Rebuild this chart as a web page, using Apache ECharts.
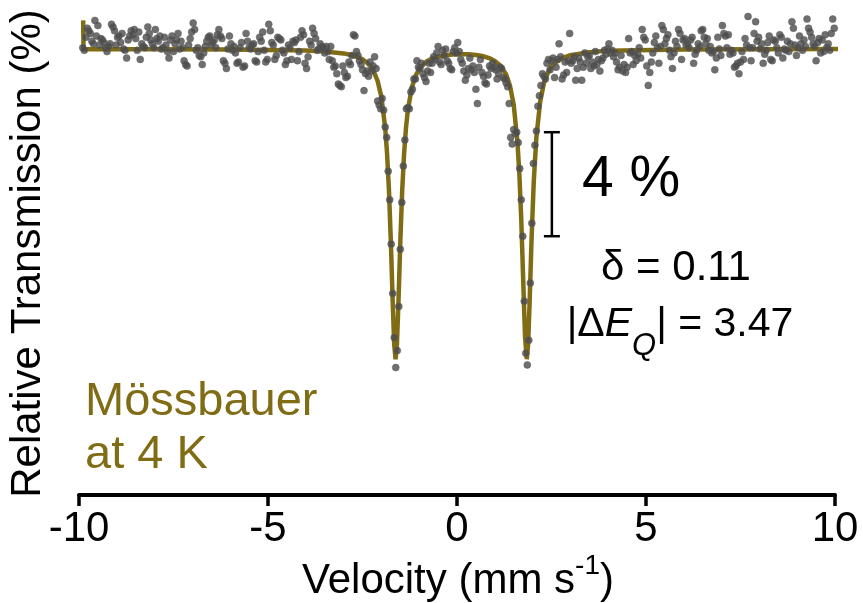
<!DOCTYPE html>
<html>
<head>
<meta charset="utf-8">
<title>Mössbauer spectrum at 4 K</title>
<script src="https://cdn.jsdelivr.net/npm/echarts@6/dist/echarts.min.js"></script>
<style>
  html, body { margin: 0; padding: 0; background: #fff; }
  #chart { width: 863px; height: 603px; }
</style>
</head>
<body>
<div id="chart"></div>
<script>
// Measured spectrum: one transmission value (%) per velocity channel.
const velocityStart = -9.9;   // mm/s, first channel
const velocityStep = 0.04;    // mm/s per channel
const transmission = [
  100.05, 99.95, 100.45, 100.8, 100.7, 100.6, 100.3, 100.2, 101.1, 100.5,
  100.9, 100.15, 100.4, 100.35, 100.25, 100.05, 99.9, 100.1, 100.2, 100.95,
  100.85, 100.7, 100.15, 100.45, 100.5, 100.25, 100.6, 100.0, 99.95, 99.65,
  100.35, 100.5, 100.7, 100.55, 100.75, 100.4, 99.95, 100.65, 99.6, 100.2,
  100.1, 100.05, 100.45, 100.85, 100.6, 100.35, 100.2, 100.05, 100.75, 100.4,
  100.3, 100.5, 100.0, 100.05, 100.45, 100.15, 99.9, 99.65, 100.35, 100.5,
  99.9, 100.2, 100.35, 100.6, 100.0, 100.3, 100.05, 99.55, 99.4, 99.35,
  100.15, 100.4, 100.65, 101.0, 100.75, 99.95, 100.05, 99.75, 99.7, 99.4,
  99.85, 100.1, 100.3, 100.45, 100.5, 100.15, 100.25, 100.35, 100.05, 100.55,
  100.75, 100.5, 100.4, 99.55, 99.45, 99.25, 100.0, 100.5, 100.2, 99.95,
  100.1, 99.85, 99.45, 99.5, 100.05, 100.25, 99.3, 99.35, 100.6, 100.3,
  100.05, 100.0, 100.15, 100.2, 99.55, 99.5, 99.9, 100.45, 100.3, 100.65,
  99.95, 99.5, 99.6, 100.95, 100.7, 100.25, 100.15, 99.6, 99.75, 100.45,
  100.4, 100.35, 99.95, 99.85, 99.4, 99.55, 100.15, 100.05, 99.6, 100.3,
  100.25, 100.35, 99.55, 99.9, 100.45, 100.7, 100.55, 99.45, 99.25, 99.7,
  100.3, 100.15, 100.8, 100.6, 100.4, 99.95, 100.0, 100.2, 100.1, 100.05,
  99.85, 100.1, 99.9, 99.6, 100.1, 99.55, 99.3, 99.35, 99.05, 98.65,
  98.6, 98.55, 99.35, 99.1, 98.9, 98.95, 99.5, 99.4, 99.75, 100.55,
  100.5, 99.9, 99.75, 99.55, 99.4, 99.2, 98.4, 99.05, 99.15, 98.95,
  99.5, 99.15, 99.35, 99.7, 99.25, 98.0, 97.85, 97.7, 98.1, 97.65,
  97.0, 96.6, 95.3, 94.2, 92.5, 90.6, 88.9, 87.75, 88.4, 90.1,
  92.3, 94.1, 95.5, 96.5, 97.7, 97.75, 97.7, 98.35, 98.45, 98.85,
  98.85, 99.55, 99.3, 99.25, 99.45, 99.05, 98.9, 98.75, 99.15, 99.45,
  99.1, 99.45, 99.7, 99.6, 99.85, 100.1, 99.5, 99.4, 99.95, 99.75,
  100.0, 99.55, 99.45, 99.25, 99.2, 99.9, 100.05, 99.85, 100.25, 99.9,
  99.6, 99.45, 99.15, 98.8, 99.0, 99.25, 99.65, 99.2, 99.35, 99.1,
  98.45, 97.9, 99.3, 99.6, 99.1, 98.95, 98.7, 98.65, 99.0, 99.35,
  99.25, 99.45, 99.3, 99.2, 98.85, 99.05, 99.3, 99.25, 98.9, 98.85,
  98.7, 98.55, 97.9, 96.6, 96.35, 96.9, 96.75, 96.8, 96.4, 95.4,
  94.2, 92.8, 90.3, 88.3, 87.85, 88.8, 91.0, 93.3, 95.6, 96.3,
  96.85, 97.8, 98.2, 98.6, 99.05, 98.95, 98.85, 99.45, 99.6, 99.2,
  99.55, 99.65, 98.9, 99.3, 99.6, 100.2, 99.7, 98.85, 99.0, 99.5,
  99.1, 99.55, 100.6, 99.45, 99.55, 99.7, 98.8, 99.25, 99.65, 99.5,
  98.8, 99.3, 99.85, 99.45, 99.7, 99.75, 99.25, 99.5, 99.35, 99.9,
  99.4, 99.6, 99.15, 99.55, 99.65, 99.95, 99.8, 100.0, 100.2, 99.85,
  99.95, 99.7, 99.85, 99.5, 99.2, 99.3, 99.75, 99.15, 99.4, 99.1,
  99.3, 100.4, 99.85, 99.9, 99.4, 99.75, 99.55, 99.8, 100.05, 99.65,
  100.75, 100.45, 100.35, 99.35, 98.6, 99.1, 99.5, 99.85, 100.25, 100.5,
  100.05, 99.45, 100.1, 100.9, 100.75, 100.2, 100.4, 100.55, 99.95, 99.7,
  99.25, 99.85, 100.3, 100.1, 100.75, 100.6, 99.6, 100.35, 100.4, 100.15,
  100.2, 100.05, 100.35, 100.45, 99.45, 99.8, 99.95, 100.2, 100.1, 100.7,
  100.75, 100.45, 100.2, 100.4, 99.95, 100.1, 99.85, 99.9, 99.2, 99.65,
  100.45, 100.0, 99.75, 100.9, 100.6, 100.5, 100.05, 100.55, 99.8, 99.95,
  99.85, 99.3, 99.35, 99.45, 99.05, 99.5, 99.9, 99.6, 100.4, 100.15,
  101.25, 100.05, 99.55, 100.05, 100.6, 101.05, 100.3, 100.45, 100.0, 100.2,
  99.45, 99.8, 99.95, 100.25, 100.5, 99.6, 99.55, 100.35, 100.3, 100.05,
  99.85, 100.55, 100.45, 99.65, 100.0, 99.95, 100.3, 99.9, 100.2, 101.05,
  100.8, 100.15, 99.75, 100.05, 100.5, 100.2, 99.95, 100.35, 100.1, 101.15,
  100.8, 100.65, 100.45, 100.2, 100.1, 99.55, 100.25, 100.4, 99.85, 100.35,
  99.9, 100.55, 100.05, 100.2, 99.95, 100.6, 101.15, 100.8
];

// Quadrupole doublet fit (δ = 0.11, |ΔEQ| = 3.47 mm/s).
const fitVelocity = [
  -9.89, -9.88, -8, -6, -4, -3.5, -3, -2.8, -2.6, -2.5,
  -2.4, -2.3, -2.2, -2.1, -2.0, -1.9, -1.85, -1.8, -1.75, -1.7,
  -1.66, -1.625, -1.59, -1.55, -1.5, -1.45, -1.4, -1.35, -1.3, -1.2,
  -1.1, -1.0, -0.8, -0.6, -0.3, 0, 0.11, 0.3, 0.5, 0.7,
  0.85, 1.0, 1.15, 1.3, 1.4, 1.5, 1.6, 1.65, 1.7, 1.75,
  1.8, 1.845, 1.88, 1.92, 1.97, 2.03, 2.1, 2.2, 2.3, 2.4,
  2.5, 2.6, 2.8, 3.0, 3.5, 4, 6, 8, 10.08
];
const fitTransmission = [
  101.1, 99.99, 99.99, 99.98, 99.94, 99.90, 99.83, 99.77, 99.67, 99.60,
  99.50, 99.35, 99.13, 98.77, 98.15, 96.97, 95.98, 94.56, 92.59, 90.22,
  88.61, 88.07, 88.61, 90.21, 92.58, 94.55, 95.97, 96.96, 97.65, 98.49,
  98.96, 99.23, 99.53, 99.67, 99.77, 99.80, 99.80, 99.80, 99.77, 99.72,
  99.65, 99.54, 99.36, 99.02, 98.60, 97.86, 96.41, 95.19, 93.44, 91.17,
  88.94, 88.07, 88.61, 90.21, 92.58, 94.88, 96.61, 97.97, 98.69, 99.07,
  99.33, 99.48, 99.66, 99.76, 99.88, 99.93, 99.98, 99.99, 100.0
];

// Axis range and labels
const velocityMin = -10, velocityMax = 10, velocityTick = 5;
const transmissionMin = 82.85, transmissionMax = 101.85;
const xTitleParts = ['Velocity (mm s', '-1', ')'];
const yTitle = 'Relative Transmission (%)';
const sampleLines = 'Mössbauer\nat 4 K';
const isomerShiftText = 'δ = 0.11';
const splittingParts = ['|Δ', 'E', 'Q', '| = 3.47'];

// Vertical scale bar: 4 % of transmission, placed in data units
const scaleBarVelocity = 2.51;
const scaleBarTop = 96.8;
const scaleBarSpan = 4;
const scaleBarLabel = '4 %';

const FONT = '"Liberation Sans", Arial, Helvetica, sans-serif';
const OLIVE = '#806c14';

const measured = transmission.map((t, i) => [+(velocityStart + i * velocityStep).toFixed(3), t]);
const fitted = fitVelocity.map((v, i) => [v, fitTransmission[i]]);

// Text-run layout helper: places mixed-font runs side by side, centred on cx.
const measureCtx = document.createElement('canvas').getContext('2d');
function textRuns(runs, cx) {
  const widths = runs.map(r => { measureCtx.font = r.font; return measureCtx.measureText(r.text).width; });
  const total = widths.reduce((a, b) => a + b, 0);
  let x = cx - total / 2;
  return runs.map((r, i) => {
    const el = {
      type: 'text', x: x, y: r.y,
      style: { text: r.text, font: r.font, fill: r.fill || '#000', align: 'left', verticalAlign: 'middle' }
    };
    x += widths[i];
    return el;
  });
}

const chart = echarts.init(document.getElementById('chart'), null, { renderer: 'canvas' });

const xTitleRuns = textRuns([
  { text: xTitleParts[0], font: '42px ' + FONT, y: 581 },
  { text: xTitleParts[1], font: '28px ' + FONT, y: 566 },
  { text: xTitleParts[2], font: '42px ' + FONT, y: 581 }
], 458);

const splittingRuns = textRuns([
  { text: splittingParts[0], font: '41px ' + FONT, y: 325 },
  { text: splittingParts[1], font: 'italic 41px ' + FONT, y: 325 },
  { text: splittingParts[2], font: 'italic 31px ' + FONT, y: 346 },
  { text: splittingParts[3], font: '41px ' + FONT, y: 325 }
], 680);

chart.setOption({
  animation: false,
  backgroundColor: '#fff',
  grid: { left: 79, right: 28, top: 0.9, bottom: 108.1, containLabel: false },
  xAxis: {
    type: 'value',
    min: velocityMin,
    max: velocityMax,
    interval: velocityTick,
    splitLine: { show: false },
    axisLine: { onZero: false, lineStyle: { color: '#000', width: 4 } },
    axisTick: { length: 11, lineStyle: { color: '#000', width: 3.5 } },
    axisLabel: { fontFamily: FONT, fontSize: 42, color: '#000', margin: 14 }
  },
  yAxis: {
    type: 'value',
    min: transmissionMin,
    max: transmissionMax,
    show: false
  },
  series: [
    {
      type: 'line',
      data: fitted,
      showSymbol: false,
      smooth: false,
      lineStyle: { color: OLIVE, width: 4.5 },
      z: 2,
      silent: true
    },
    {
      type: 'scatter',
      data: measured,
      symbol: 'circle',
      symbolSize: 7,
      itemStyle: { color: '#4b4b4b', borderColor: '#5c5c5c', borderWidth: 0.6 },
      z: 3,
      silent: true
    },
    {
      type: 'custom',
      data: [[scaleBarVelocity, scaleBarTop, scaleBarTop - scaleBarSpan]],
      renderItem: function (params, api) {
        const top = api.coord([api.value(0), api.value(1)]);
        const bottom = api.coord([api.value(0), api.value(2)]);
        const half = 8;
        const style = { stroke: '#000', lineWidth: 2.5 };
        return {
          type: 'group',
          children: [
            { type: 'line', shape: { x1: top[0], y1: top[1], x2: bottom[0], y2: bottom[1] }, style: style },
            { type: 'line', shape: { x1: top[0] - half, y1: top[1], x2: top[0] + half, y2: top[1] }, style: style },
            { type: 'line', shape: { x1: bottom[0] - half, y1: bottom[1], x2: bottom[0] + half, y2: bottom[1] }, style: style }
          ]
        };
      },
      z: 4,
      silent: true
    }
  ],
  graphic: [
    {
      type: 'text',
      rotation: Math.PI / 2,
      x: 28,
      y: 253.5,
      style: { text: yTitle, font: '42px ' + FONT, fill: '#000', align: 'center', verticalAlign: 'middle' }
    },
    {
      type: 'text',
      x: 85,
      y: 376,
      style: { text: sampleLines, font: '47px ' + FONT, fill: OLIVE, align: 'left', verticalAlign: 'top', lineHeight: 53 }
    },
    {
      type: 'text',
      x: 631,
      y: 180,
      style: { text: scaleBarLabel, font: '57px ' + FONT, fill: '#000', align: 'center', verticalAlign: 'middle' }
    },
    {
      type: 'text',
      x: 676,
      y: 268,
      style: { text: isomerShiftText, font: '42px ' + FONT, fill: '#000', align: 'center', verticalAlign: 'middle' }
    }
  ].concat(xTitleRuns, splittingRuns)
});
</script>
</body>
</html>
